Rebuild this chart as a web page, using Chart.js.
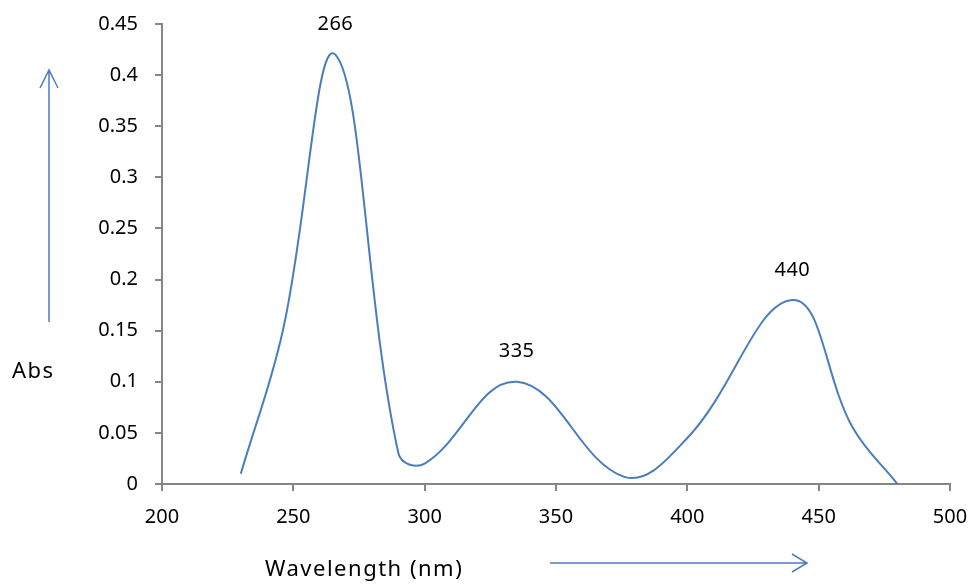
<!DOCTYPE html>
<html lang="en">
<head>
    <meta charset="UTF-8">
    <title>Absorption spectrum</title>
    <script src="https://cdn.jsdelivr.net/npm/chart.js"></script>
    <style>
        body { margin: 0; background: #fff; }
        .chart-container { width: 974px; height: 585px; position: relative; }
    </style>
</head>
<body>
    <div class="chart-container">
        <canvas id="absChart"></canvas>
    </div>

    <script>
        // spectrum
        const wavelengths = [230, 246, 266, 290, 300, 335, 376, 400, 440, 463, 480];
        const absorbance = [0.01, 0.15, 0.42, 0.03, 0.02, 0.10, 0.007, 0.045, 0.18, 0.055, 0];
        const peakLabels = [266, 335, 440];
        const xTicks = [200, 250, 300, 350, 400, 450, 500];
        const yTicks = [0, 0.05, 0.1, 0.15, 0.2, 0.25, 0.3, 0.35, 0.4, 0.45];

        const lineColor = '#4a7ebb';
        const axisColor = '#868686';
        const font = 'Noto Sans';

        const points = wavelengths.map((w, i) => ({ x: w, y: absorbance[i] }));

        const decorations = {
            id: 'decorations',
            afterDatasetsDraw(chart) {
                const ctx = chart.ctx;
                const xs = chart.scales.x, ys = chart.scales.y;
                ctx.save();
                ctx.fillStyle = '#000';
                ctx.font = '20px "' + font + '"';
                ctx.textAlign = 'center';
                ctx.textBaseline = 'middle';
                ctx.letterSpacing = '0.5px';
                peakLabels.forEach(p => {
                    const i = wavelengths.indexOf(p);
                    ctx.fillText(String(p), xs.getPixelForValue(p), ys.getPixelForValue(absorbance[i]) - 30);
                });

                ctx.font = '22px "' + font + '"';
                ctx.textAlign = 'left';
                ctx.letterSpacing = '1.5px';
                ctx.fillText('Abs', 12, 372);
                ctx.fillText('Wavelength (nm)', 265, 570);
                ctx.letterSpacing = '0px';

                ctx.strokeStyle = lineColor;
                ctx.lineWidth = 1.5;
                ctx.beginPath();
                ctx.moveTo(49, 322); ctx.lineTo(49, 70);
                ctx.moveTo(40, 88); ctx.lineTo(49, 70); ctx.lineTo(58, 88);
                ctx.moveTo(550, 563); ctx.lineTo(807, 563);
                ctx.moveTo(792, 554); ctx.lineTo(807, 563); ctx.lineTo(792, 572);
                ctx.stroke();
                ctx.restore();
            }
        };

        new Chart(document.getElementById('absChart'), {
            type: 'line',
            data: {
                datasets: [{
                    data: points,
                    borderColor: lineColor,
                    borderWidth: 2,
                    pointRadius: 0,
                    tension: 0.4,
                    fill: false
                }]
            },
            options: {
                responsive: true,
                maintainAspectRatio: false,
                animation: false,
                layout: { padding: { left: 0, right: 24, top: 24, bottom: 0 } },
                plugins: { legend: { display: false }, tooltip: { enabled: false } },
                scales: {
                    x: {
                        type: 'linear',
                        min: 200,
                        max: 500,
                        afterBuildTicks: s => { s.ticks = xTicks.map(v => ({ value: v })); },
                        afterFit: s => { s.height = 101; s.paddingLeft = 0; s.paddingRight = 0; },
                        border: { color: axisColor, width: 2 },
                        grid: { drawOnChartArea: false, color: axisColor, lineWidth: 2, tickLength: 7 },
                        ticks: { color: '#000', font: { family: font, size: 20 }, padding: 14 }
                    },
                    y: {
                        min: 0,
                        max: 0.45,
                        afterBuildTicks: s => { s.ticks = yTicks.map(v => ({ value: v })); },
                        afterFit: s => { s.width = 162; s.paddingTop = 0; s.paddingBottom = 0; },
                        border: { color: axisColor, width: 2 },
                        grid: { drawOnChartArea: false, color: axisColor, lineWidth: 2, tickLength: 7 },
                        ticks: {
                            color: '#000',
                            font: { family: font, size: 20 },
                            padding: 17,
                            callback: v => String(+v.toFixed(2))
                        }
                    }
                }
            },
            plugins: [decorations]
        });
    </script>
</body>
</html>
